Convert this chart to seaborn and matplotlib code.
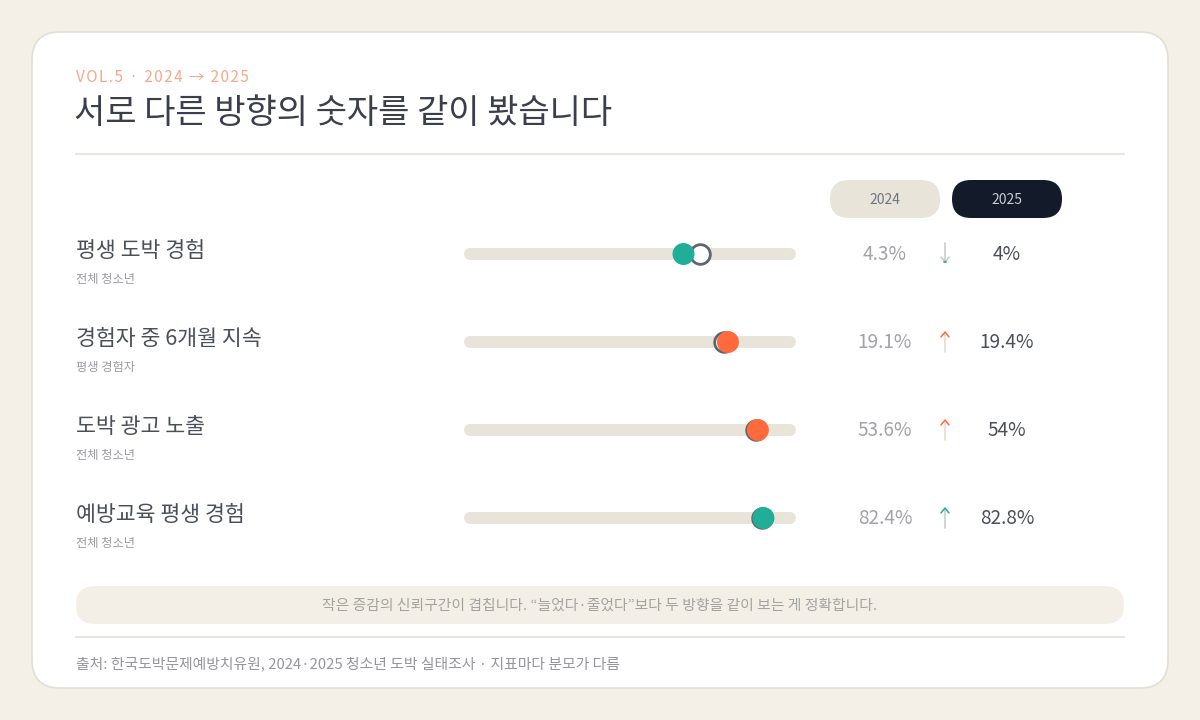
import numpy as np
import pandas as pd
import matplotlib
matplotlib.use("Agg")
import matplotlib.pyplot as plt
import seaborn as sns
from matplotlib.patches import FancyBboxPatch

# data
labels = ["평생 도박 경험", "경험자 중 6개월 지속", "도박 광고 노출", "예방교육 평생 경험"]
sublabels = ["전체 청소년", "평생 경험자", "전체 청소년", "전체 청소년"]
values_2024 = [4.3, 19.1, 53.6, 82.4]
values_2025 = [4.0, 19.4, 54.0, 82.8]
value_text_2024 = ["4.3%", "19.1%", "53.6%", "82.4%"]
value_text_2025 = ["4%", "19.4%", "54%", "82.8%"]
# which way is "better" for each indicator
good_direction = ["down", "down", "down", "up"]
# each row has its own scale (denominators differ)
row_scale_max = [6.05, 24.4, 61.0, 91.8]

BG = "#f4efe7"
CARD_EDGE = "#e4dfd4"
TRACK = "#e8e4da"
TEAL = "#20ae98"
ORANGE = "#ff6a3d"
HOLLOW_EDGE = "#5f6471"
GREY = "#a0a2a8"

sns.set_theme(style="white")
plt.rcParams["font.family"] = ["Noto Sans CJK KR", "DejaVu Sans"]

fig = plt.figure(figsize=(12, 7.2), dpi=100)
fig.patch.set_facecolor(BG)
ax = fig.add_axes([0, 0, 1, 1])
ax.set_xlim(0, 1200)
ax.set_ylim(720, 0)
ax.axis("off")

card = FancyBboxPatch((32, 32), 1136, 656, boxstyle="round,pad=0,rounding_size=28",
                      facecolor="white", edgecolor=CARD_EDGE, linewidth=1.2)
ax.add_patch(card)

# subtitle with a little letter spacing
kicker = "VOL.5 · 2024 → 2025"
ax.text(76, 77, "\u200a".join(kicker), fontsize=11, color="#f6a889", va="center", ha="left")
ax.text(74, 113, "서로 다른 방향의 숫자를 같이 봤습니다", fontsize=24.5, color="#3a3f4b",
        va="center", ha="left")
ax.plot([76, 1124], [154, 154], color="#e8e5de", lw=1.5)

# column pills
for cx, txt, fc, tc in [(885, "2024", TRACK, "#70747c"), (1007, "2025", "#131a2a", "#c9ccd3")]:
    pill = FancyBboxPatch((cx - 55, 180), 110, 38, boxstyle="round,pad=0,rounding_size=19",
                          facecolor=fc, edgecolor="none")
    ax.add_patch(pill)
    ax.text(cx, 200, txt, fontsize=10, color=tc, ha="center", va="center")

row_y = [254, 342, 430, 518]
track_x0, track_w = 464, 332

for i, yc in enumerate(row_y):
    ax.text(76, yc - 3, labels[i], fontsize=15.6, color="#4a4f59", ha="left", va="center")
    ax.text(76, yc + 26, sublabels[i], fontsize=8.8, color="#999ba1", ha="left", va="center")

    change_up = values_2025[i] > values_2024[i]
    good = (change_up and good_direction[i] == "up") or (not change_up and good_direction[i] == "down")
    accent = TEAL if good else ORANGE

    # per-row track axes
    rax = fig.add_axes([track_x0 / 1200, 1 - (yc + 16) / 720, track_w / 1200, 32 / 720])
    M = row_scale_max[i]
    rax.set_xlim(0, M)
    rax.set_ylim(-1, 1)
    rax.axis("off")
    cap = 6 / track_w * M
    rax.plot([cap, M - cap], [0, 0], color=TRACK, lw=8.6, solid_capstyle="round", zorder=1)
    df = pd.DataFrame({"x": [values_2024[i], values_2025[i]], "y": [0, 0],
                       "year": ["2024", "2025"]})
    sns.scatterplot(data=df[df.year == "2024"], x="x", y="y", ax=rax, s=200,
                    color="white", edgecolor=HOLLOW_EDGE, linewidth=2.0, zorder=3,
                    clip_on=False, legend=False)
    sns.scatterplot(data=df[df.year == "2025"], x="x", y="y", ax=rax, s=250,
                    color=accent, edgecolor="none", linewidth=0, zorder=4,
                    clip_on=False, legend=False)

    # values
    ax.text(885, yc + 1, value_text_2024[i], fontsize=13.7, color=GREY, ha="center", va="center")
    ax.text(1007, yc + 1, value_text_2025[i], fontsize=13.7, color="#4a4f5a", ha="center",
            va="center")

    # arrow
    ax_x = 945
    shaft_col = "#d0d0d0" if good else "#e6e0d2"
    if change_up:
        ax.plot([ax_x, ax_x], [yc - 9, yc + 10], color=shaft_col, lw=1.3)
        ax.plot([ax_x - 4, ax_x, ax_x + 4], [yc - 5, yc - 10, yc - 5], color=accent, lw=1.1)
    else:
        ax.plot([ax_x, ax_x], [yc - 11, yc + 8], color=shaft_col, lw=1.3)
        ax.plot([ax_x - 4, ax_x, ax_x + 4], [yc + 3, yc + 8, yc + 3], color="#c4c6c8", lw=1.1)
        ax.plot([ax_x - 1.2, ax_x + 1.2], [yc + 8, yc + 8], color=accent, lw=1.2)

# note box
note = FancyBboxPatch((76, 586), 1048, 38, boxstyle="round,pad=0,rounding_size=19",
                      facecolor="#f4efe6", edgecolor="none")
ax.add_patch(note)
ax.text(600, 606, "작은 증감의 신뢰구간이 겹칩니다. “늘었다·줄었다”보다 두 방향을 같이 보는 게 정확합니다.",
        fontsize=10.7, color="#a3a3a3", ha="center", va="center")
ax.plot([76, 1124], [637, 637], color="#e8e5de", lw=1.5)
ax.text(76, 664, "출처: 한국도박문제예방치유원, 2024·2025 청소년 도박 실태조사 · 지표마다 분모가 다름",
        fontsize=10.7, color="#95969c", ha="left", va="center")

fig.savefig("out.png", dpi=100, facecolor=BG)
